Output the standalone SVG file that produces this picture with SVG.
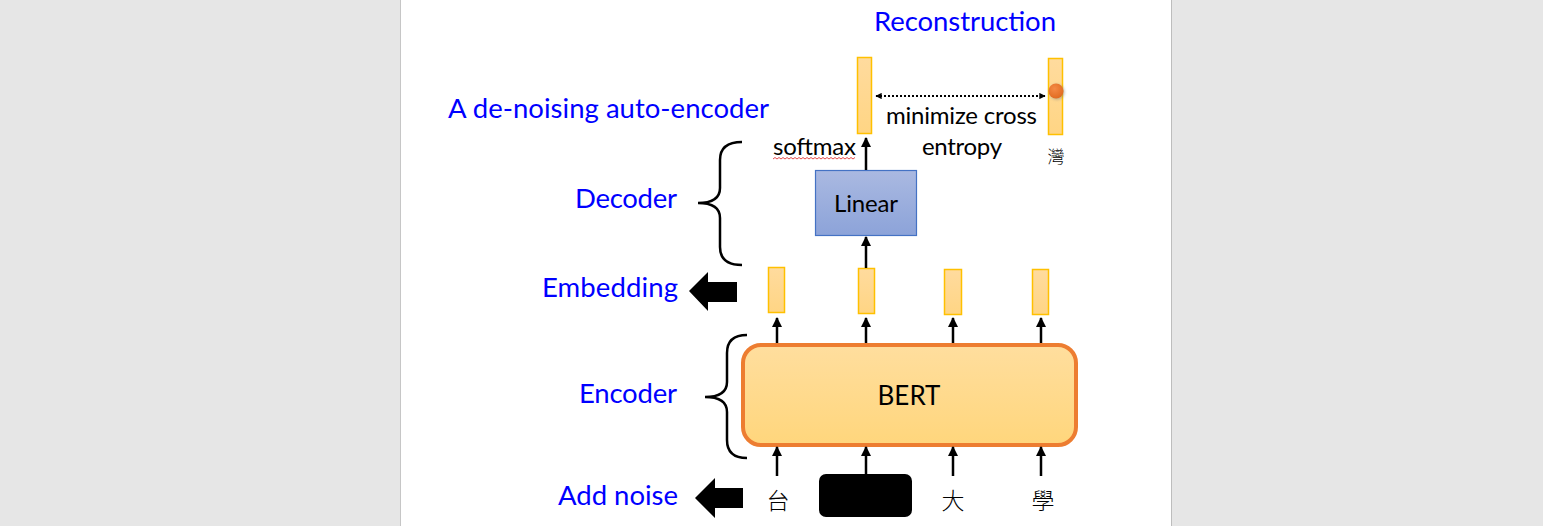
<svg xmlns="http://www.w3.org/2000/svg" width="1543" height="526" viewBox="0 0 1543 526">
<defs>
<style>
.blue{font-family:Lato,"Liberation Sans",sans-serif;fill:#0000FF;font-size:27.5px;}
.blk{font-family:Lato,"Liberation Sans",sans-serif;fill:#000;font-size:24px;}
.big{font-size:26px;}
.cjk{font-family:"Noto Sans CJK TC","Noto Sans CJK SC",sans-serif;fill:#000;text-anchor:middle;font-weight:300;}
.bar{fill:url(#gBar);stroke:#FFC000;stroke-width:1.5;}
.arr{stroke:#000;stroke-width:2.5;fill:none;marker-end:url(#ah);}
.brace{stroke:#000;stroke-width:2.5;fill:none;}
</style>
<linearGradient id="gBar" x1="0" y1="0" x2="0" y2="1"><stop offset="0" stop-color="#FFDB9E"/><stop offset="1" stop-color="#FFD584"/></linearGradient>
<linearGradient id="gBert" x1="0" y1="0" x2="0" y2="1"><stop offset="0" stop-color="#FFDE9E"/><stop offset="1" stop-color="#FFD67C"/></linearGradient>
<linearGradient id="gLin" x1="0" y1="0" x2="0" y2="1"><stop offset="0" stop-color="#AAB9E1"/><stop offset="1" stop-color="#8CA3D9"/></linearGradient>
<radialGradient id="gDot" cx="0.4" cy="0.35" r="0.7"><stop offset="0" stop-color="#F48A45"/><stop offset="1" stop-color="#E0691F"/></radialGradient>
<filter id="sh" x="-1" y="-1" width="3" height="3"><feGaussianBlur stdDeviation="1.5"/></filter>
<marker id="ah" viewBox="0 0 10 10" refX="9" refY="5" markerWidth="4" markerHeight="4" orient="auto" markerUnits="strokeWidth"><path d="M0,0 L10,5 L0,10 z" fill="#000"/></marker>
<marker id="ahs" viewBox="0 0 10 10" refX="9" refY="5" markerWidth="3.5" markerHeight="3.5" orient="auto-start-reverse" markerUnits="strokeWidth"><path d="M0,0 L10,5 L0,10 z" fill="#000"/></marker>
</defs>

<rect x="0" y="0" width="1543" height="526" fill="#E6E6E6"/>
<rect x="401" y="0" width="770" height="526" fill="#FFFFFF"/>
<line x1="400.5" y1="0" x2="400.5" y2="526" stroke="#C6C6C6" stroke-width="1"/>
<line x1="1171.5" y1="0" x2="1171.5" y2="526" stroke="#BDBDBD" stroke-width="1"/>

<g id="labels">
<text class="blue" x="874" y="31" textLength="182">Reconstruction</text>
<text class="blue" x="448" y="118" textLength="321">A de-noising auto-encoder</text>
<text class="blue" x="677" y="208" text-anchor="end" textLength="102">Decoder</text>
<text class="blue" x="678" y="297" text-anchor="end" textLength="136">Embedding</text>
<text class="blue" x="677" y="403" text-anchor="end" textLength="98">Encoder</text>
<text class="blue" x="678" y="505" text-anchor="end" textLength="120">Add noise</text>
</g>

<g id="decoder-brace"><path class="brace" d="M742,142 C728,142 720,148 720,160 L720,188 C720,198 712,203 698,203 C712,203 720,208 720,218 L720,247 C720,259 728,265 742,265"/></g>
<g id="encoder-brace"><path class="brace" d="M747,335 C733,335 727,341 727,353 L727,382 C727,392 719,397 705,397 C719,397 727,402 727,412 L727,440 C727,452 733,458 747,458"/></g>

<g id="embedding-arrow"><path d="M689,291 L708,272 L708,282 L737,282 L737,302 L708,302 L708,311 Z" fill="#000"/></g>
<g id="noise-arrow"><path d="M695,498 L715,478 L715,488 L743,488 L743,508 L715,508 L715,518 Z" fill="#000"/></g>

<g id="bert"><rect x="743" y="345" width="333" height="100" rx="18" ry="18" fill="url(#gBert)" stroke="#ED7D31" stroke-width="4"/>
<text class="blk big" x="909" y="405" text-anchor="middle">BERT</text></g>

<g id="linear"><rect x="815.5" y="170.5" width="101" height="65" fill="url(#gLin)" stroke="#4472C4" stroke-width="1.2"/>
<text class="blk" x="866" y="212" text-anchor="middle" textLength="64">Linear</text></g>

<g id="emb1"><rect class="bar" x="768.5" y="267.5" width="16" height="45"/></g>
<g id="emb2"><rect class="bar" x="858.5" y="268.5" width="16" height="45"/></g>
<g id="emb3"><rect class="bar" x="944.5" y="269.5" width="17" height="45"/></g>
<g id="emb4"><rect class="bar" x="1032.5" y="269.5" width="16" height="45"/></g>

<g id="out1"><rect class="bar" x="857.5" y="57.5" width="14" height="76"/></g>
<g id="out2"><rect class="bar" x="1048.5" y="58.5" width="14" height="76"/>
<circle cx="1057" cy="92" r="7.5" fill="#777" opacity="0.5" filter="url(#sh)"/>
<circle cx="1056" cy="91" r="7.5" fill="url(#gDot)"/></g>

<g id="inputs">
<text class="cjk" x="778" y="509" font-size="23">台</text>
<rect x="819" y="474" width="93" height="43" rx="7" ry="7" fill="#000"/>
<text class="cjk" x="953" y="509" font-size="23">大</text>
<text class="cjk" x="1043" y="509" font-size="23">學</text>
<text class="cjk" x="1056" y="163" font-size="17">灣</text>
</g>

<g id="texts">
<text class="blk" x="773" y="155" textLength="83">softmax</text>
<path d="M773,159 l2,-1.5 l2,1.5 l2,-1.5 l2,1.5 l2,-1.5 l2,1.5 l2,-1.5 l2,1.5 l2,-1.5 l2,1.5 l2,-1.5 l2,1.5 l2,-1.5 l2,1.5 l2,-1.5 l2,1.5 l2,-1.5 l2,1.5 l2,-1.5 l2,1.5 l2,-1.5 l2,1.5 l2,-1.5 l2,1.5 l2,-1.5 l2,1.5 l2,-1.5 l2,1.5 l2,-1.5 l2,1.5 l2,-1.5 l2,1.5 l2,-1.5 l2,1.5 l2,-1.5 l2,1.5 l2,-1.5 l2,1.5 l2,-1.5 l2,1.5 l2,-1.5" stroke="#E02020" stroke-width="0.8" fill="none"/>
<text class="blk" x="886" y="124" textLength="151">minimize cross</text>
<text class="blk" x="922" y="155" textLength="80">entropy</text>
</g>

<g id="connectors">
<line class="arr" x1="777" y1="476" x2="777" y2="447"/>
<line class="arr" x1="866" y1="474" x2="866" y2="447"/>
<line class="arr" x1="953" y1="476" x2="953" y2="447"/>
<line class="arr" x1="1041" y1="476" x2="1041" y2="447"/>
<line class="arr" x1="777" y1="343" x2="777" y2="318"/>
<line class="arr" x1="866" y1="343" x2="866" y2="318"/>
<line class="arr" x1="953" y1="343" x2="953" y2="318"/>
<line class="arr" x1="1041" y1="343" x2="1041" y2="318"/>
<line class="arr" x1="866" y1="268" x2="866" y2="237"/>
<line class="arr" x1="866" y1="170" x2="866" y2="138"/>
<line x1="876" y1="96" x2="1045" y2="96" stroke="#000" stroke-width="1.8" stroke-dasharray="2 2" marker-start="url(#ahs)" marker-end="url(#ahs)"/>
</g>
</svg>
